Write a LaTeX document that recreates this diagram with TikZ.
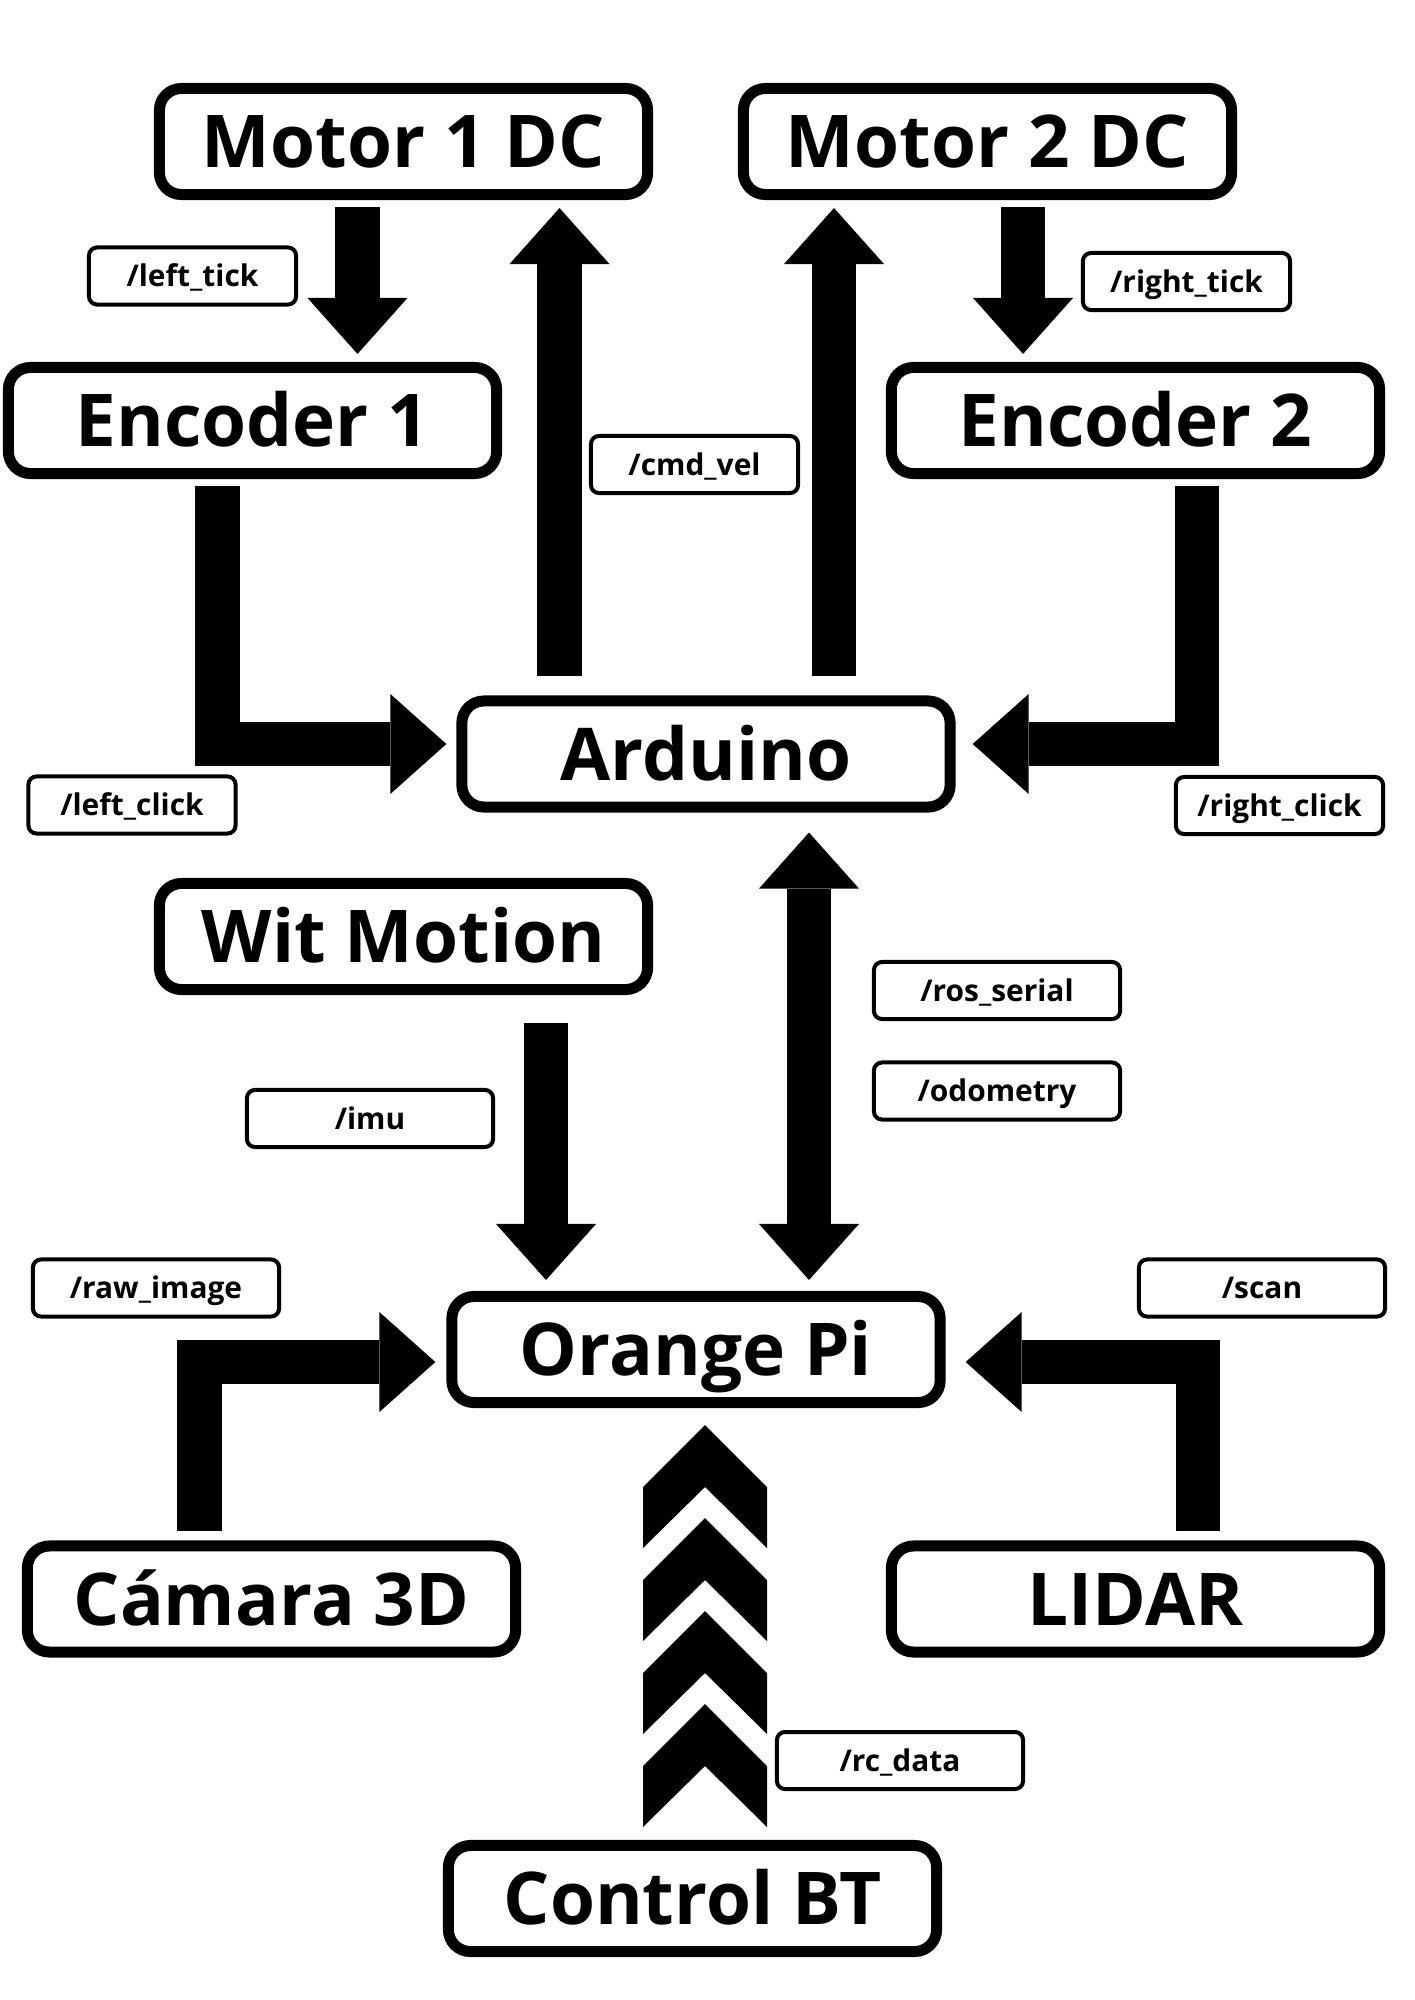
\documentclass[tikz,border=0pt]{standalone}
\usepackage{fontspec}
\setmainfont{Open Sans}
\usetikzlibrary{arrows.meta}
\begin{document}
\begin{tikzpicture}[x=0.01cm,y=-0.01cm,
  bloque/.style={draw,line width=0.11cm,rounded corners=0.22cm,minimum width=4.88cm,minimum height=1.06cm,
    inner sep=0pt,text height=14.8pt,text depth=0pt,font=\fontsize{20.7}{24}\selectfont\bfseries},
  tema/.style={draw,line width=0.04cm,rounded corners=0.08cm,minimum width=2.07cm,minimum height=0.57cm,
    inner sep=0pt,text height=6.1pt,text depth=0pt,font=\fontsize{8.5}{10}\selectfont\bfseries},
  temaancho/.style={tema,minimum width=2.46cm},
  punta/.tip={Triangle[line width=0pt,width=1cm,length=0.56cm]},
  flujo/.style={line width=0.44cm,-punta},
  doble/.style={line width=0.44cm,punta-punta}]
\useasboundingbox (0,0) rectangle (1414,2000);
\node[bloque] (m1) at (403.5,141.5) {Motor 1 DC};
\node[bloque] (m2) at (987.5,141.5) {Motor 2 DC};
\node[bloque] (enc1) at (252.5,420.5) {Encoder 1};
\node[bloque] (enc2) at (1135.5,420.5) {Encoder 2};
\node[bloque] (ard) at (706,754) {Arduino};
\node[bloque] (wit) at (403.5,936.5) {Wit Motion};
\node[bloque] (opi) at (696,1349.5) {Orange Pi};
\node[bloque] (cam) at (271.5,1599) {Cámara 3D};
\node[bloque] (lidar) at (1135.5,1599) {LIDAR};
\node[bloque] (bt) at (692.5,1898.5) {Control BT};
\node[tema] (lt) at (192.5,276) {/left\_tick};
\node[tema] (rt) at (1186.5,281.5) {/right\_tick};
\node[tema] (cmd) at (694.5,464.5) {/cmd\_vel};
\node[tema] (lc) at (132,805) {/left\_click};
\node[tema] (rc) at (1279.5,805.5) {/right\_click};
\node[temaancho] (ros) at (997,990.5) {/ros\_serial};
\node[temaancho] (odom) at (997,1091) {/odometry};
\node[temaancho] (imu) at (370,1118.5) {/imu};
\node[temaancho] (raw) at (156,1288) {/raw\_image};
\node[temaancho] (scan) at (1262,1288) {/scan};
\node[temaancho] (rcd) at (900,1760.5) {/rc\_data};
\draw[flujo,shorten <=0.7mm,shorten >=0.8mm] (357.5,0 |- m1.south) -- (357.5,0 |- enc1.north);
\draw[flujo,shorten <=0.7mm,shorten >=0.8mm] (1023,0 |- m2.south) -- (1023,0 |- enc2.north);
\draw[flujo,shorten <=1.9mm,shorten >=0.8mm] (559.5,0 |- ard.north) -- (559.5,0 |- m1.south);
\draw[flujo,shorten <=1.9mm,shorten >=0.8mm] (834,0 |- ard.north) -- (834,0 |- m2.south);
\draw[flujo,shorten <=0.7mm,shorten >=1mm] (217.5,0 |- enc1.south) |- ([yshift=1mm]ard.west);
\draw[flujo,shorten <=0.7mm,shorten >=1.7mm] (1197,0 |- enc2.south) |- ([yshift=1mm]ard.east);
\draw[flujo,shorten <=2.8mm,shorten >=1.1mm] (546,0 |- wit.south) -- (546,0 |- opi.north);
\draw[doble,shorten <=2mm,shorten >=1.1mm] (809,0 |- ard.south) -- (809,0 |- opi.north);
\draw[flujo,shorten <=0.9mm,shorten >=1.1mm] (199.5,0 |- cam.north) |- ([yshift=-1.25mm]opi.west);
\draw[flujo,shorten <=0.9mm,shorten >=2mm] (1198,0 |- lidar.north) |- ([yshift=-1.25mm]opi.east);
\foreach \t in {1425,1518,1611,1704}
  \fill (705,\t) -- ++(-62,62) -- ++(0,61) -- ++(62,-61) -- ++(62,61) -- ++(0,-61) -- cycle;
\end{tikzpicture}
\end{document}
